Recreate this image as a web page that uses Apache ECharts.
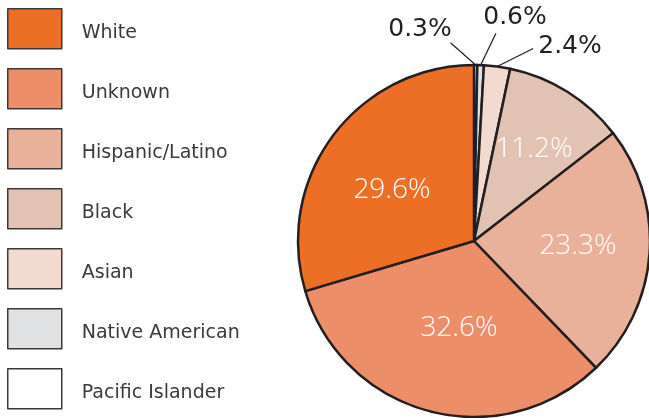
<!DOCTYPE html>
<html>
<head>
<meta charset="utf-8">
<script src="https://cdn.jsdelivr.net/npm/echarts@6/dist/echarts.min.js"></script>
<style>
html, body { margin: 0; padding: 0; background: #fff; }
#chart { width: 649px; height: 418px; }
</style>
</head>
<body>
<div id="chart"></div>
<script>
// categories clockwise from 12 o'clock
var categories = ['Pacific Islander', 'Native American', 'Asian', 'Black', 'Hispanic/Latino', 'Unknown', 'White'];
var values = [0.3, 0.6, 2.4, 11.2, 23.3, 32.6, 29.6];
var colors = ['#ffffff', '#e0e1e3', '#f3dad1', '#e2c3b3', '#eab19a', '#ec8f69', '#ed6f25'];
// legend order top to bottom
var legendOrder = ['White', 'Unknown', 'Hispanic/Latino', 'Black', 'Asian', 'Native American', 'Pacific Islander'];

// where each percent label sits (label layout only)
var labelSpots = [
  [420, 29], [515, 17], [570, 46],
  [534, 149], [578, 246], [459, 328], [392, 190]
];
// where the leader line meets the label box (fraction of width / height)
var lineAnchors = [[0.98, 1.05], [0.2, 1.15], [-0.08, 0.6]];
var outside = [true, true, true, false, false, false, false];

var chart = echarts.init(document.getElementById('chart'), null, { renderer: 'canvas' });

var seriesData = categories.map(function (name, i) {
  return {
    name: name,
    value: values[i],
    itemStyle: { color: colors[i] },
    label: outside[i]
      ? { position: 'outside', color: '#231f20', fontSize: 25, fontFamily: 'DejaVu Sans' }
      : { position: 'inside', color: '#ffffff', fontSize: 28, fontFamily: 'Open Sans', fontWeight: 300 },
    labelLine: { show: outside[i] }
  };
});

var option = {
  backgroundColor: '#fff',
  animation: false,
  legend: {
    orient: 'vertical',
    left: 7,
    top: 8,
    height: 410,
    padding: 0,
    data: legendOrder,
    itemWidth: 54,
    itemHeight: 40,
    itemGap: 18.5,
    icon: 'rect',
    selectedMode: false,
    itemStyle: { borderColor: '#3f3838', borderWidth: 1.5 },
    formatter: '{n|{name}}',
    textStyle: {
      padding: [0, 0, 0, 15],
      rich: {
        n: {
          fontFamily: 'DejaVu Sans',
          fontSize: 19,
          color: '#3a3a3a',
          padding: [8, 0, 0, 0]
        }
      }
    }
  },
  series: [{
    type: 'pie',
    center: [474, 241],
    radius: 176,
    startAngle: 90,
    clockwise: true,
    avoidLabelOverlap: false,
    itemStyle: { borderColor: '#231f20', borderWidth: 2.5 },
    label: {
      formatter: '{c}%',
      fontWeight: 'normal'
    },
    labelLine: {
      lineStyle: { color: '#231f20', width: 1.2 }
    },
    labelLayout: function (p) {
      var i = p.dataIndex;
      var s = labelSpots[i];
      var res = { x: s[0], y: s[1], align: 'center', verticalAlign: 'middle' };
      if (outside[i] && p.labelLinePoints) {
        var w = p.labelRect.width, h = p.labelRect.height;
        var a = lineAnchors[i];
        var end = [s[0] - w / 2 + a[0] * w, s[1] - h / 2 + a[1] * h];
        res.labelLinePoints = [p.labelLinePoints[0], end];
      }
      return res;
    },
    data: seriesData
  }]
};

chart.setOption(option);
</script>
</body>
</html>
